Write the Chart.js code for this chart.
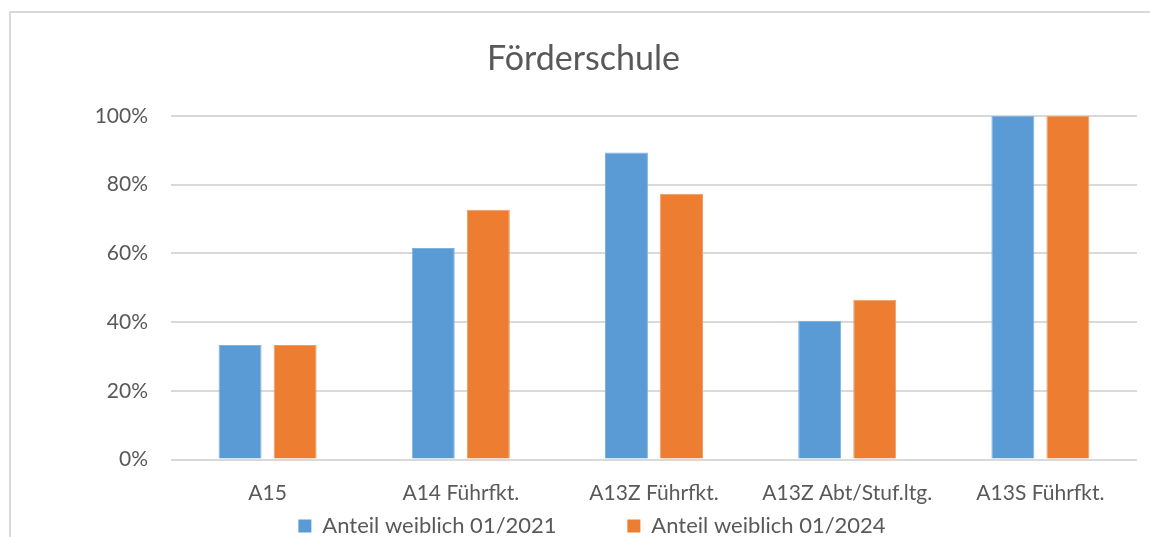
<!DOCTYPE html>
<html>
<head>
<meta charset="utf-8">
<script src="https://cdn.jsdelivr.net/npm/chart.js@4"></script>
<style>
    body { margin: 0; background: #fff; overflow: hidden; }
    #frame { position: absolute; left: 9px; top: 11px; width: 1300px; height: 700px; border: 2px solid #d9d9d9; }
    #wrap { position: absolute; left: 0; top: 0; width: 1150px; height: 547px; }
</style>
</head>
<body>
<div id="frame"></div>
<div id="wrap"><canvas id="chart" width="1150" height="547"></canvas></div>
<script>

const categories = ["A15", "A14 Führfkt.", "A13Z Führfkt.", "A13Z Abt/Stuf.ltg.", "A13S Führfkt."];
const share2021 = [33.3, 61.5, 89.3, 40.4, 100];
const share2024 = [33.3, 72.7, 77.3, 46.5, 100];
const yTicks = [0, 20, 40, 60, 80, 100];

const textColor = "#595959";
const fontFamily = "Lato, 'Open Sans', sans-serif";

const ctx = document.getElementById("chart");

new Chart(ctx, {

    type: "bar",

    data: {
        labels: categories,
        datasets: [
            {
                label: "Anteil weiblich 01/2021",
                data: share2021,
                backgroundColor: "#5b9bd5",
                borderColor: "#7fb1df",
                borderWidth: 1,
                categoryPercentage: 0.57,
                barPercentage: 0.78
            },
            {
                label: "Anteil weiblich 01/2024",
                data: share2024,
                backgroundColor: "#ed7d31",
                borderColor: "#f09a5e",
                borderWidth: 1,
                categoryPercentage: 0.57,
                barPercentage: 0.78
            }
        ]
    },

    options: {
        responsive: false,
        animation: false,
        devicePixelRatio: 1,
        layout: { padding: { left: 47, right: 13, top: 0, bottom: 0 } },
        plugins: {
            title: {
                display: true,
                // trailing en space nudges the centred title a little to the left
                text: "Förderschule\u2002",
                color: textColor,
                font: { family: fontFamily, size: 34, weight: "normal" },
                padding: { top: 39, bottom: 36 }
            },
            legend: {
                position: "bottom",
                labels: {
                    color: textColor,
                    font: { family: fontFamily, size: 22 },
                    boxWidth: 13,
                    boxHeight: 13,
                    padding: 7.5,
                    generateLabels(chart) {
                        const items = Chart.defaults.plugins.legend.labels.generateLabels(chart);
                        items.forEach((item, i) => {
                            item.lineWidth = 0;
                            // wider gap between the two legend entries, like the original
                            if (i === 0) item.text = item.text + "\u2003\u2003\u2003\u2002\u2009";
                        });
                        return items;
                    }
                }
            },
            tooltip: { enabled: false }
        },
        scales: {
            x: {
                grid: { display: false },
                border: { display: false },
                ticks: {
                    color: textColor,
                    font: { family: fontFamily, size: 21 },
                    padding: 13,
                    maxRotation: 0,
                    autoSkip: false
                },
                afterFit(scale) { scale.height = 48; }
            },
            y: {
                min: 0,
                max: 100,
                afterBuildTicks(scale) { scale.ticks = yTicks.map(v => ({ value: v })); },
                grid: { color: "#d9d9d9", lineWidth: 2, drawTicks: false },
                border: { display: false },
                ticks: {
                    color: textColor,
                    font: { family: fontFamily, size: 21 },
                    padding: 23,
                    callback: v => v + "%"
                },
                afterFit(scale) { scale.width = 124; }
            }
        }
    }

});

</script>
</body>
</html>
